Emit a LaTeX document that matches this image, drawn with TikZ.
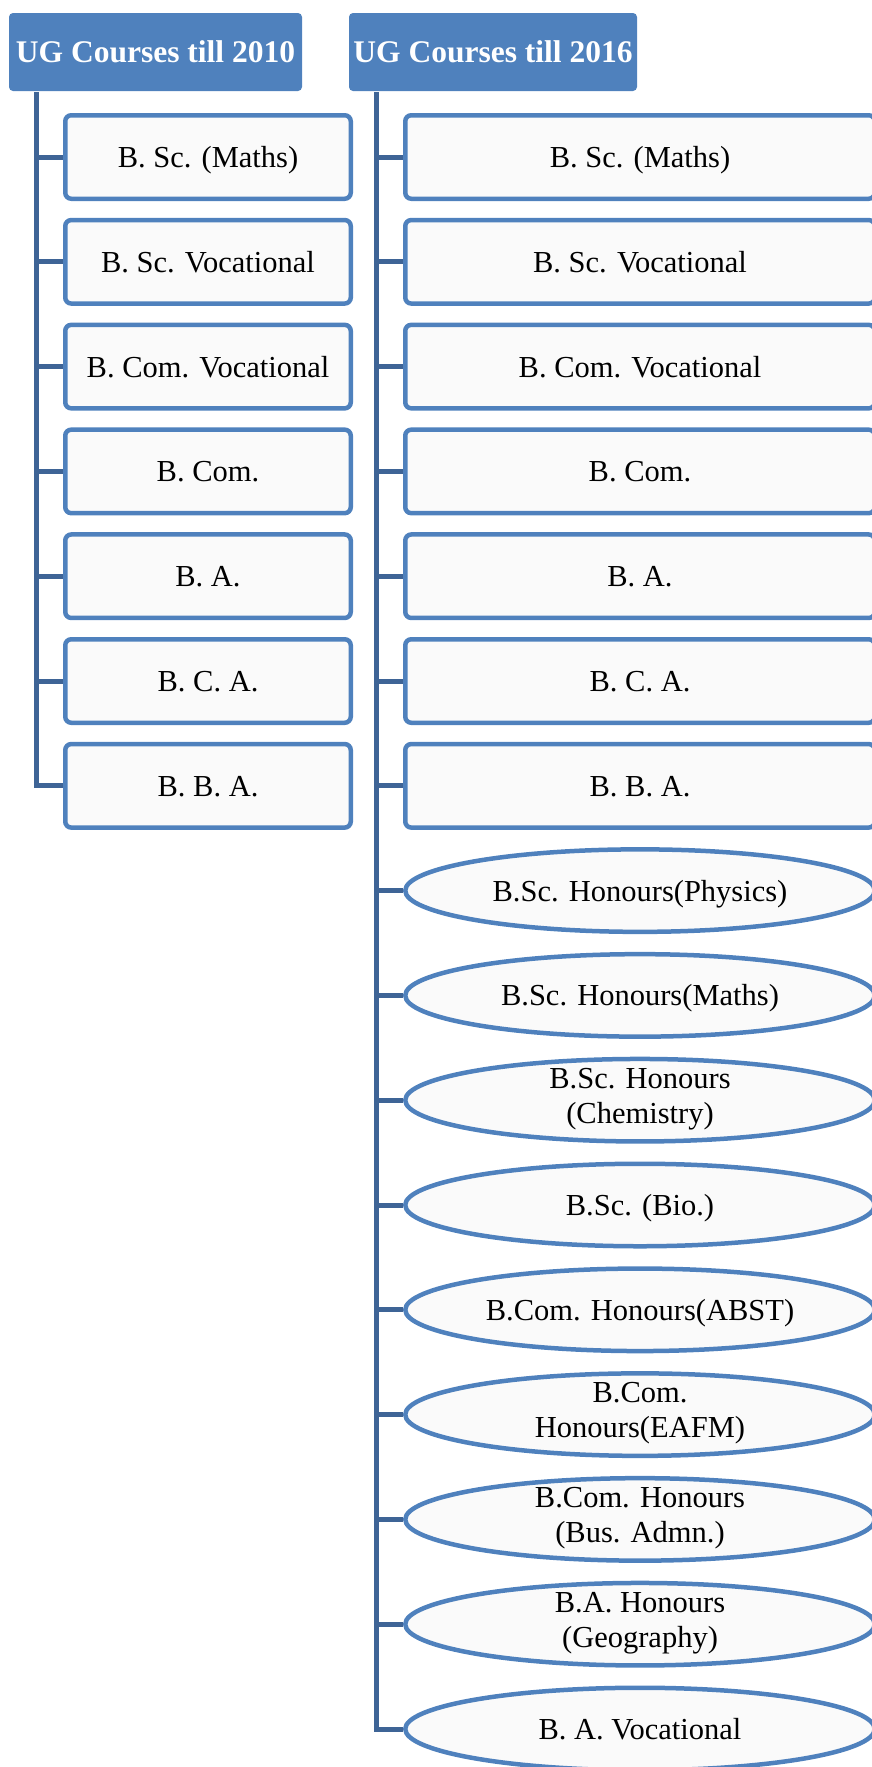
\documentclass[tikz,border=0pt]{standalone}
\usepackage{fontspec}
\setmainfont{Liberation Serif}
\usetikzlibrary{shapes.geometric}
\definecolor{headblue}{RGB}{79,129,189}
\definecolor{linkblue}{RGB}{62,100,150}
\tikzset{
  head/.style={fill=headblue, rounded corners=4pt, minimum width=#1, minimum height=78pt,
    inner sep=0pt, text=white, font=\fontsize{31.5}{36}\selectfont\bfseries},
  course/.style={draw=headblue, line width=4.5pt, fill=gray!4, rounded corners=6pt,
    minimum width=#1, minimum height=83.5pt, inner sep=0pt, font=\fontsize{30.5}{35}\selectfont,
    execute at begin node={\rule[-9pt]{0pt}{39pt}}},
  honours/.style={ellipse, draw=headblue, line width=4.5pt, fill=gray!4, minimum width=469.5pt,
    minimum height=82.5pt, inner xsep=0pt, inner ysep=-8pt, align=center,
    font=\fontsize{30.5}{35}\selectfont, execute at begin node={\rule[-9pt]{0pt}{39pt}}},
  branch/.style={draw=linkblue, line width=5pt}
}
\begin{document}
\begin{tikzpicture}[x=1pt,y=-1pt]
\useasboundingbox (0,0) rectangle (872,1767);
\def\k{104.8}
% headers
\node[head=293pt, name=h1] at (155.5,52){UG Courses till 2010};
\node[head=288pt, name=h2] at (493,52){UG Courses till 2016};
\coordinate (tl) at (36,92);
\coordinate (tr) at (376,92);
% courses till 2010
\node[course=285.5pt, name=l1] at (208,{157+0*\k}){B. Sc. (Maths)};
\node[course=285.5pt, name=l2] at (208,{157+1*\k}){B. Sc. Vocational};
\node[course=285.5pt, name=l3] at (208,{157+2*\k}){B. Com. Vocational};
\node[course=285.5pt, name=l4] at (208,{157+3*\k}){B. Com.};
\node[course=285.5pt, name=l5] at (208,{157+4*\k}){B. A.};
\node[course=285.5pt, name=l6] at (208,{157+5*\k}){B. C. A.};
\node[course=285.5pt, name=l7] at (208,{157+6*\k}){B. B. A.};
% courses till 2016
\node[course=469.5pt, name=r1] at (640,{157+0*\k}){B. Sc. (Maths)};
\node[course=469.5pt, name=r2] at (640,{157+1*\k}){B. Sc. Vocational};
\node[course=469.5pt, name=r3] at (640,{157+2*\k}){B. Com. Vocational};
\node[course=469.5pt, name=r4] at (640,{157+3*\k}){B. Com.};
\node[course=469.5pt, name=r5] at (640,{157+4*\k}){B. A.};
\node[course=469.5pt, name=r6] at (640,{157+5*\k}){B. C. A.};
\node[course=469.5pt, name=r7] at (640,{157+6*\k}){B. B. A.};
\node[honours, name=r8] at (640,{157+7*\k}){B.Sc. Honours(Physics)};
\node[honours, name=r9] at (640,{157+8*\k}){B.Sc. Honours(Maths)};
\node[honours, name=r10] at (640,{157+9*\k}){B.Sc. Honours\\(Chemistry)};
\node[honours, name=r11] at (640,{157+10*\k}){B.Sc. (Bio.)};
\node[honours, name=r12] at (640,{157+11*\k}){B.Com. Honours(ABST)};
\node[honours, name=r13] at (640,{157+12*\k}){B.Com.\\Honours(EAFM)};
\node[honours, name=r14] at (640,{157+13*\k}){B.Com. Honours\\(Bus. Admn.)};
\node[honours, name=r15] at (640,{157+14*\k}){B.A. Honours\\(Geography)};
\node[honours, name=r16] at (640,{157+15*\k}){B. A. Vocational};
% connectors
\foreach \i in {1,...,7}
  \draw[branch] (tl) |- (l\i.west);
\foreach \i in {1,...,16}
  \draw[branch] (tr) |- (r\i.west);
\end{tikzpicture}
\end{document}
